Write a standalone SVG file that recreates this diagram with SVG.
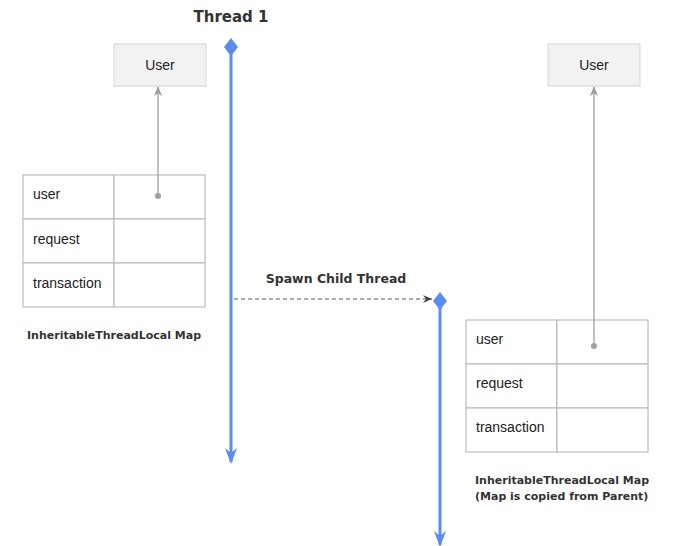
<svg xmlns="http://www.w3.org/2000/svg" width="680" height="546" viewBox="0 0 680 546">
<defs>
<style>
.box{fill:#f2f2f2;stroke:#d4d4d4;stroke-width:1}
.cell{fill:#fff;stroke:#bdbdbd;stroke-width:1.2}
.t{font-family:"Liberation Sans",Arial,sans-serif;font-size:14px;fill:#222}
.h{font-family:"DejaVu Sans","Noto Sans",sans-serif;font-weight:bold;fill:#333}
.thread{stroke:#5a8ced;stroke-width:3;fill:none}
.ref{stroke:#a0a0a0;stroke-width:1.3;fill:none}
</style>
<marker id="blueHead" viewBox="0 0 16 12" refX="14" refY="6" markerWidth="16" markerHeight="12" markerUnits="userSpaceOnUse" orient="auto">
<path d="M0,0 L16,6 L0,12 L5,6 Z" fill="#5a8ced"/>
</marker>
<marker id="greyHead" viewBox="0 0 10 8" refX="9" refY="4" markerWidth="10" markerHeight="8" markerUnits="userSpaceOnUse" orient="auto">
<path d="M0,0 L10,4 L0,8 L2.5,4 Z" fill="#a0a0a0"/>
</marker>
<marker id="openHead" viewBox="0 0 10 10" refX="9" refY="5" markerWidth="10" markerHeight="10" markerUnits="userSpaceOnUse" orient="auto">
<path d="M0,1 L9,5 L0,9 L3,5 Z" fill="#444"/>
</marker>
</defs>

<g id="thread1">
<text class="h" x="231" y="22" font-size="15" text-anchor="middle">Thread 1</text>
<line class="thread" x1="231" y1="50" x2="231" y2="462" marker-end="url(#blueHead)"/>
<polygon points="231,38 238,47 231,56 224,47" fill="#5a8ced"/>
</g>

<g id="user-left">
<rect class="box" x="114" y="44" width="92" height="42"/>
<text class="t" x="160" y="70" text-anchor="middle">User</text>
</g>

<g id="map-left">
<rect class="cell" x="23" y="175" width="91" height="44"/>
<rect class="cell" x="114" y="175" width="91" height="44"/>
<rect class="cell" x="23" y="219" width="91" height="44"/>
<rect class="cell" x="114" y="219" width="91" height="44"/>
<rect class="cell" x="23" y="263" width="91" height="44"/>
<rect class="cell" x="114" y="263" width="91" height="44"/>
<text class="t" x="33" y="199">user</text>
<text class="t" x="33" y="244">request</text>
<text class="t" x="33" y="288">transaction</text>
<text class="h" x="27" y="339" font-size="11">InheritableThreadLocal Map</text>
</g>

<g id="thread-child">
<line class="thread" x1="440" y1="305" x2="440" y2="545" marker-end="url(#blueHead)"/>
<polygon points="440,292 447,301 440,310 433,301" fill="#5a8ced"/>
</g>

<g id="user-right">
<rect class="box" x="548" y="44" width="92" height="42"/>
<text class="t" x="594" y="70" text-anchor="middle">User</text>
</g>

<g id="map-right">
<rect class="cell" x="466" y="320" width="91" height="44"/>
<rect class="cell" x="557" y="320" width="91" height="44"/>
<rect class="cell" x="466" y="364" width="91" height="44"/>
<rect class="cell" x="557" y="364" width="91" height="44"/>
<rect class="cell" x="466" y="408" width="91" height="44"/>
<rect class="cell" x="557" y="408" width="91" height="44"/>
<text class="t" x="476" y="344">user</text>
<text class="t" x="476" y="388">request</text>
<text class="t" x="476" y="432">transaction</text>
<text class="h" x="475" y="484" font-size="11">InheritableThreadLocal Map</text>
<text class="h" x="475" y="500" font-size="11">(Map is copied from Parent)</text>
</g>

<g id="connectors">
<line class="ref" x1="158" y1="196" x2="158" y2="87" marker-end="url(#greyHead)"/>
<circle cx="158" cy="196" r="3" fill="#a0a0a0"/>
<line class="ref" x1="594" y1="346" x2="594" y2="87" marker-end="url(#greyHead)"/>
<circle cx="594" cy="346" r="3" fill="#a0a0a0"/>
<line x1="234" y1="299" x2="432" y2="299" stroke="#555" stroke-width="1" stroke-dasharray="4,3" marker-end="url(#openHead)"/>
<text class="h" x="336" y="283" font-size="12.5" text-anchor="middle">Spawn Child Thread</text>
</g>
</svg>
